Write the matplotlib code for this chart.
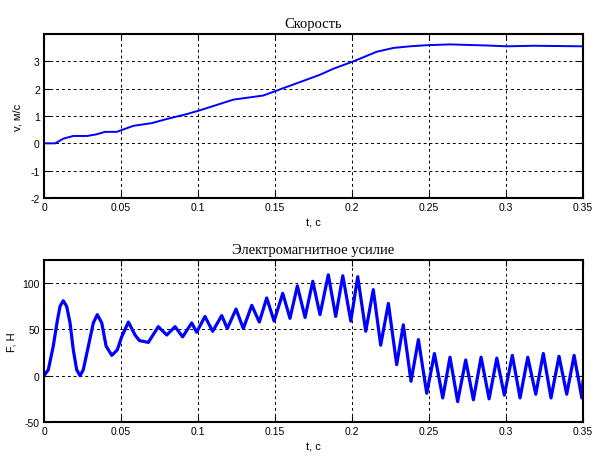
import numpy as np
import matplotlib
matplotlib.use('Agg')
import matplotlib.pyplot as plt

# скорость v(t)
t_v = [0.0, 0.0073, 0.0125, 0.019, 0.0281, 0.0342, 0.0396, 0.0472, 0.058, 0.07,
       0.0797, 0.0927, 0.1013, 0.123, 0.1424, 0.1554, 0.1662, 0.1792, 0.1879,
       0.2009, 0.216, 0.2268, 0.2377, 0.2485, 0.2636, 0.2875, 0.3005, 0.3177, 0.35]
v = [0.0, 0.0, 0.17, 0.27, 0.27, 0.33, 0.42, 0.42, 0.64, 0.74,
     0.89, 1.07, 1.21, 1.6, 1.75, 2.02, 2.24, 2.51, 2.73,
     3.0, 3.35, 3.49, 3.55, 3.59, 3.62, 3.58, 3.55, 3.57, 3.55]

# электромагнитное усилие F(t)
t_f = [0.0, 0.0028, 0.006, 0.0087, 0.0104, 0.0125, 0.0147, 0.0169, 0.019, 0.0212,
       0.0234, 0.0255, 0.0288, 0.032, 0.0346, 0.0375, 0.0403, 0.044, 0.0476, 0.0504,
       0.0548, 0.0591, 0.0619, 0.0677, 0.0742, 0.0797, 0.0851, 0.090, 0.0959, 0.0991,
       0.1045, 0.1095, 0.1154, 0.119, 0.1247, 0.1294, 0.1349, 0.1398, 0.1446, 0.1494,
       0.155, 0.1597, 0.1645, 0.1695, 0.1745, 0.1792, 0.1846, 0.1894, 0.194, 0.1992,
       0.2037, 0.2089, 0.2138, 0.2186, 0.2236, 0.229, 0.2333, 0.2383, 0.2431, 0.2485,
       0.2535, 0.2589, 0.2636, 0.2686, 0.2738, 0.2788, 0.2838, 0.289, 0.294, 0.2989,
       0.3041, 0.3091, 0.3141, 0.3193, 0.3242, 0.3292, 0.3344, 0.3394, 0.3442, 0.3492,
       0.35]
F = [0, 6.5, 32, 60, 75, 81, 75, 57, 28, 6.5,
     0, 6.5, 32, 57, 66, 57, 32, 22, 28, 42,
     58, 44, 38, 36, 53, 44, 53, 42, 57, 47,
     64, 48, 65, 51, 72, 51, 76, 58, 84, 59,
     89, 62, 97, 63, 102, 66, 109, 64, 108, 59,
     107, 48, 93, 33, 78, 12, 55, -6, 39, -19,
     24, -24, 20, -28, 17, -26, 20, -25, 19, -21,
     22, -24, 20, -20, 24, -24, 21, -20, 22, -24,
     -6]

v_ticks = [-2, -1, 0, 1, 2, 3]
f_ticks = [-50, 0, 50, 100]
x_ticks = [0, 0.05, 0.1, 0.15, 0.2, 0.25, 0.3, 0.35]
x_ticklabels = ['0', '0.05', '0.1', '0.15', '0.2', '0.25', '0.3', '0.35']

plt.rcParams['font.family'] = ['Liberation Sans', 'DejaVu Sans']
plt.rcParams['font.size'] = 7.5
plt.rcParams['axes.unicode_minus'] = False

fig = plt.figure(figsize=(6.03, 4.77), dpi=100)
ax1 = fig.add_axes([0.073, 0.5828, 0.8939, 0.3438])
ax2 = fig.add_axes([0.073, 0.1132, 0.8939, 0.3396])

title_font = ['Liberation Serif', 'DejaVu Serif']


def style(ax):
    ax.set_xlim(0, 0.35)
    ax.set_xticks(x_ticks)
    ax.set_xticklabels(x_ticklabels)
    ax.grid(True, color='black', linestyle=(0, (3, 3)), linewidth=0.7)
    ax.tick_params(direction='in', top=True, right=True, length=4, width=0.8,
                   labelsize=7.5, pad=3)
    for s in ax.spines.values():
        s.set_linewidth(1.5)
    ax.set_xlabel('t, c', fontsize=8)
    ax.xaxis.set_label_coords(0.5, -0.12)


ax1.plot(t_v, v, color='#0000ff', linewidth=1.4)
ax1.set_ylim(-2, 4)
ax1.set_yticks(v_ticks)
ax1.set_ylabel('v, м/с', fontsize=8, labelpad=6)
ax1.set_title('Скорость', family=title_font, fontsize=10.5, pad=5)
style(ax1)

ax2.plot(t_f, F, color='#0000ff', linewidth=2.3, solid_joinstyle='round')
ax2.set_ylim(-50, 125)
ax2.set_yticks(f_ticks)
ax2.set_ylabel('F, Н', fontsize=8)
ax2.set_title('Электромагнитное усилие', family=title_font, fontsize=10.5, pad=5)
style(ax2)

fig.savefig('out.png', dpi=100)
